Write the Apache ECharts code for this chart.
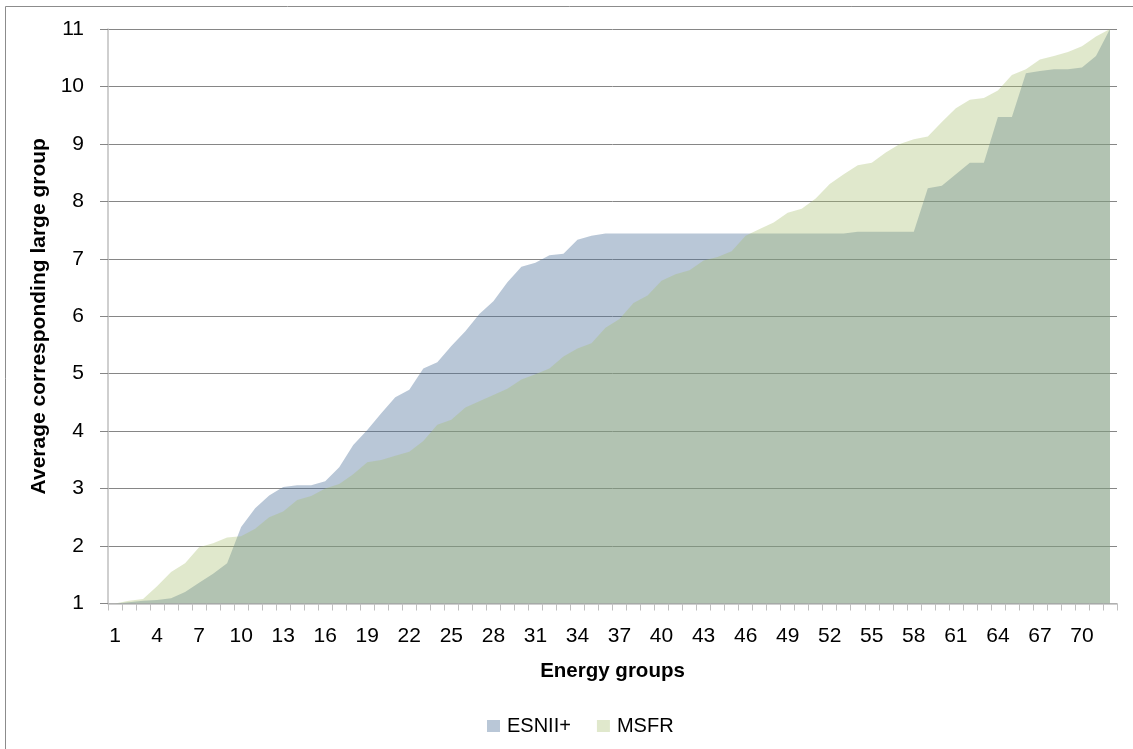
<!DOCTYPE html>
<html>
<head>
<meta charset="utf-8">
<script src="https://cdn.jsdelivr.net/npm/echarts@6/dist/echarts.min.js"></script>
<style>
  html, body { margin: 0; padding: 0; background: #ffffff; }
  #chart { width: 1133px; height: 749px; }
</style>
</head>
<body>
<div id="chart"></div>
<script>
// Energy group indices 1..72
const energyGroups = [
  1, 2, 3, 4, 5, 6, 7, 8, 9, 10, 11, 12, 13, 14, 15, 16, 17, 18,
  19, 20, 21, 22, 23, 24, 25, 26, 27, 28, 29, 30, 31, 32, 33, 34, 35, 36,
  37, 38, 39, 40, 41, 42, 43, 44, 45, 46, 47, 48, 49, 50, 51, 52, 53, 54,
  55, 56, 57, 58, 59, 60, 61, 62, 63, 64, 65, 66, 67, 68, 69, 70, 71, 72
];

// Average corresponding large group, ESNII+ library
const esniiValues = [
  1.00, 1.02, 1.05, 1.06, 1.09, 1.20, 1.36, 1.52, 1.70, 2.33, 2.66, 2.88,
  3.03, 3.06, 3.06, 3.13, 3.37, 3.76, 4.02, 4.31, 4.59, 4.72, 5.09, 5.20,
  5.48, 5.74, 6.04, 6.26, 6.59, 6.86, 6.93, 7.06, 7.09, 7.33, 7.40, 7.44,
  7.44, 7.44, 7.44, 7.44, 7.44, 7.44, 7.44, 7.44, 7.44, 7.44, 7.44, 7.44,
  7.44, 7.44, 7.44, 7.44, 7.44, 7.47, 7.47, 7.47, 7.47, 7.47, 8.23, 8.27,
  8.47, 8.67, 8.67, 9.47, 9.47, 10.23, 10.27, 10.30, 10.30, 10.33, 10.53, 11.00
];

// Average corresponding large group, MSFR library
const msfrValues = [
  1.00, 1.05, 1.08, 1.30, 1.55, 1.70, 1.98, 2.05, 2.15, 2.17, 2.30, 2.50,
  2.60, 2.80, 2.87, 3.00, 3.08, 3.25, 3.46, 3.50, 3.57, 3.64, 3.83, 4.11,
  4.20, 4.41, 4.52, 4.63, 4.74, 4.90, 4.99, 5.09, 5.30, 5.44, 5.53, 5.80,
  5.95, 6.23, 6.36, 6.62, 6.73, 6.80, 6.97, 7.03, 7.13, 7.40, 7.52, 7.63,
  7.80, 7.87, 8.05, 8.30, 8.47, 8.63, 8.67, 8.85, 9.00, 9.08, 9.13, 9.38,
  9.62, 9.77, 9.80, 9.93, 10.20, 10.30, 10.47, 10.53, 10.60, 10.70, 10.87, 11.00
];

const FONT = 'Liberation Sans';

const chart = echarts.init(document.getElementById('chart'), null, { renderer: 'canvas' });

chart.setOption({
  backgroundColor: '#ffffff',
  animation: false,
  textStyle: { fontFamily: FONT },
  graphic: [{
    type: 'rect',
    shape: { x: 5.5, y: 6.5, width: 1140, height: 760 },
    style: { fill: 'none', stroke: '#8c8c8c', lineWidth: 1 },
    silent: true
  }],
  grid: { left: 108, right: 16, top: 29, bottom: 145.5, containLabel: false },
  legend: {
    top: 716,
    left: 487,
    padding: 0,
    icon: 'rect',
    itemWidth: 13,
    itemHeight: 12,
    itemGap: 26,
    textStyle: { fontFamily: FONT, fontSize: 20, color: '#000', padding: [0, 0, 0, 2] },
    data: ['ESNII+', 'MSFR']
  },
  xAxis: {
    type: 'category',
    data: energyGroups,
    boundaryGap: true,
    name: 'Energy groups',
    nameLocation: 'middle',
    nameGap: 57,
    nameTextStyle: { fontFamily: FONT, fontSize: 20.5, fontWeight: 'bold', color: '#000' },
    axisLine: { lineStyle: { color: '#bfbfbf', width: 1.5 } },
    axisTick: { show: true, interval: 0, length: 7, lineStyle: { color: '#bfbfbf' } },
    axisLabel: { interval: 2, margin: 22, fontSize: 21, color: '#000', fontFamily: FONT },
    splitLine: { show: false }
  },
  yAxis: {
    type: 'value',
    min: 1,
    max: 11,
    interval: 1,
    name: 'Average corresponding large group',
    nameLocation: 'middle',
    nameGap: 57,
    nameTextStyle: { fontFamily: FONT, fontSize: 21, fontWeight: 'bold', color: '#000' },
    axisLine: { show: true, lineStyle: { color: '#bfbfbf', width: 1.5 } },
    axisTick: { show: true, length: 8, lineStyle: { color: '#868686' } },
    axisLabel: { margin: 24, fontSize: 21, color: '#000', fontFamily: FONT },
    splitLine: { show: true, lineStyle: { color: '#868686', width: 1 } }
  },
  series: [
    {
      name: 'ESNII+',
      type: 'line',
      data: esniiValues,
      showSymbol: false,
      symbol: 'none',
      lineStyle: { width: 0 },
      itemStyle: { color: '#b9c7d7' },
      areaStyle: { color: 'rgb(80,115,155)', opacity: 0.4 },
      z: 2
    },
    {
      name: 'MSFR',
      type: 'line',
      data: msfrValues,
      showSymbol: false,
      symbol: 'none',
      lineStyle: { width: 0 },
      itemStyle: { color: '#e0e8cc' },
      areaStyle: { color: 'rgb(166,189,109)', opacity: 0.35 },
      z: 3
    }
  ]
});
</script>
</body>
</html>
